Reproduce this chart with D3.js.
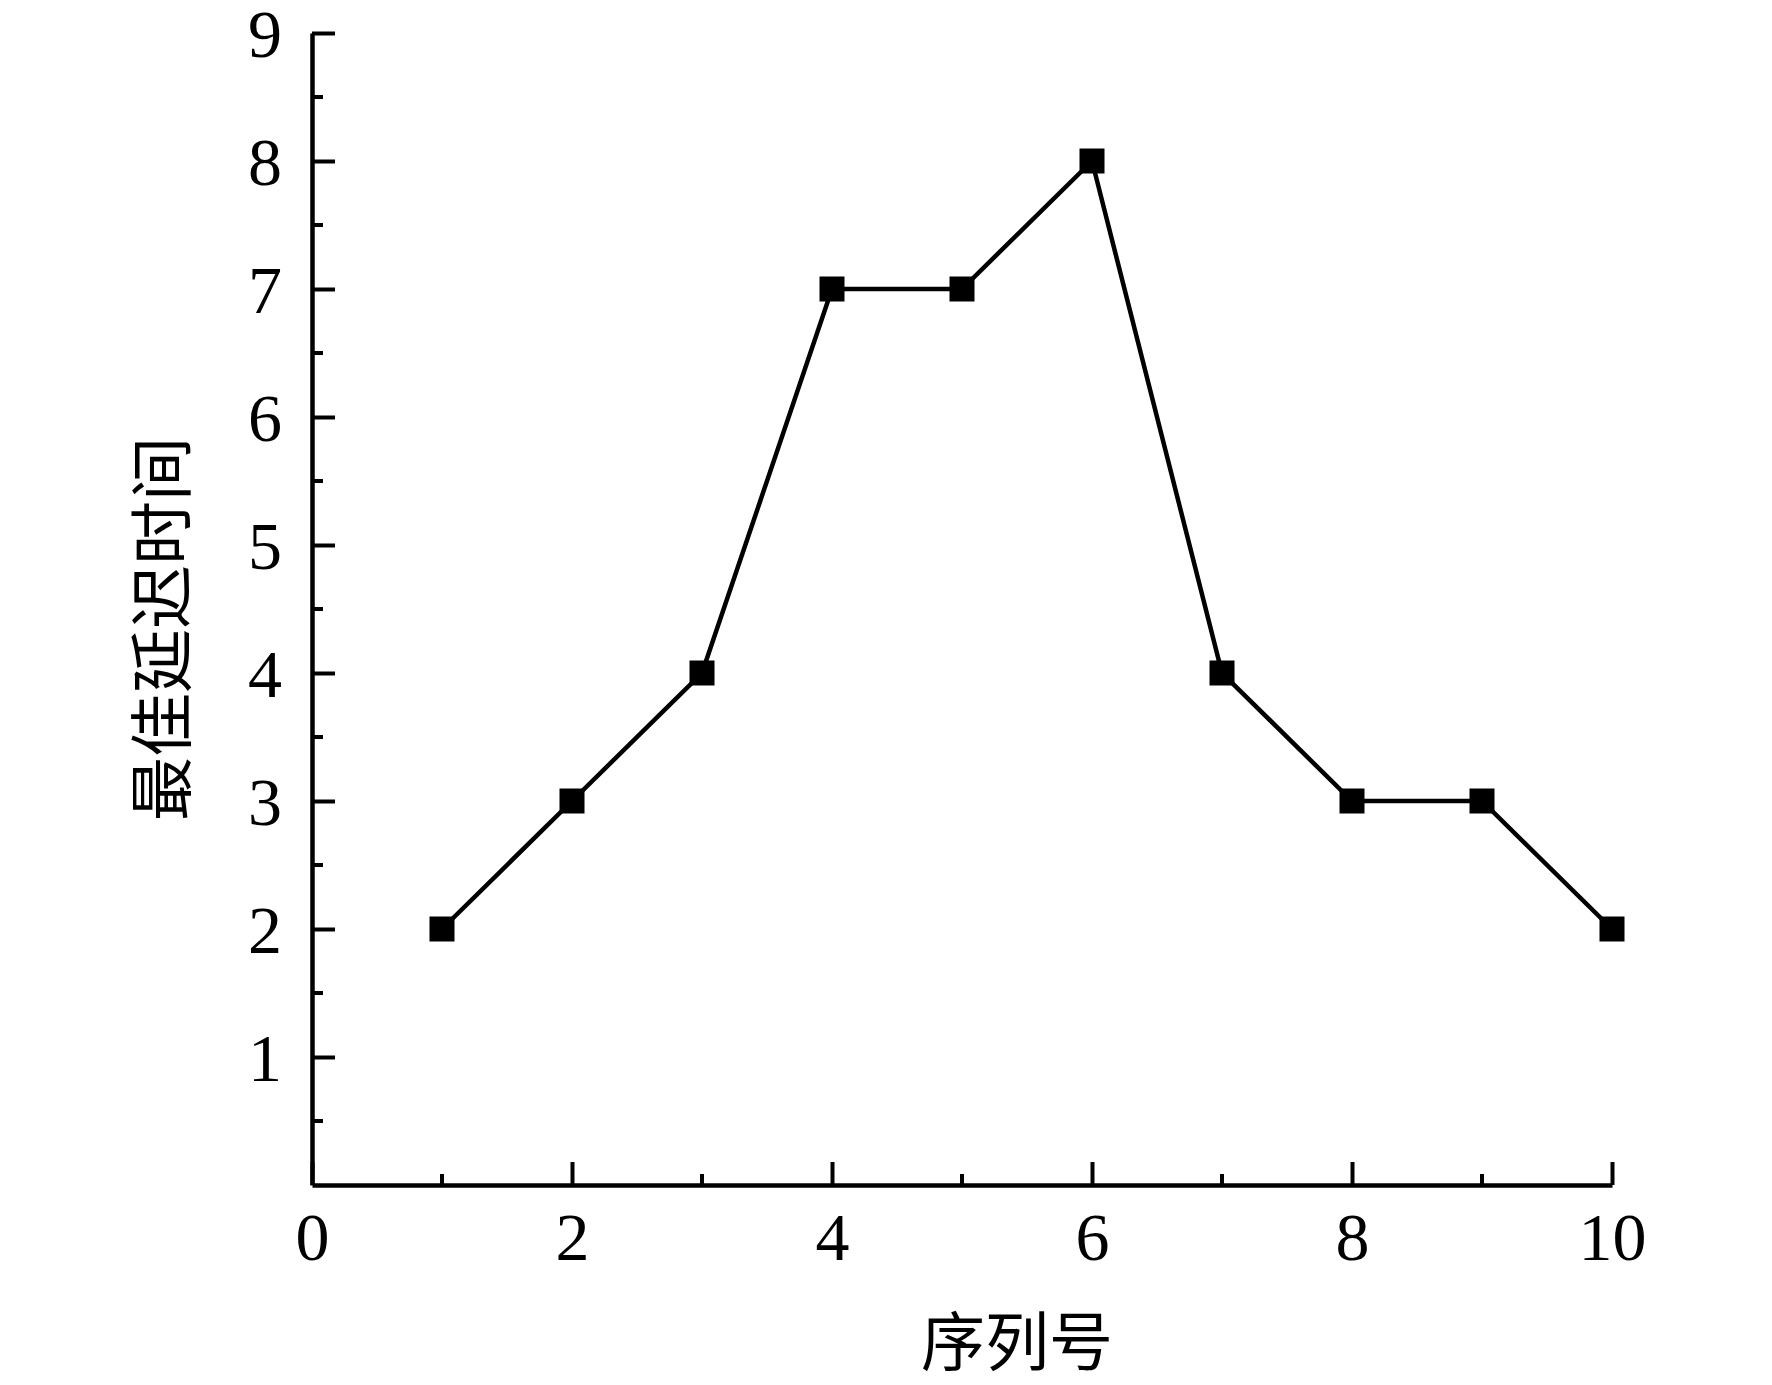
<!DOCTYPE html>
<html>
<head>
<meta charset="utf-8">
<script src="https://cdn.jsdelivr.net/npm/d3@7"></script>
<style>
  body { margin: 0; background: #fff; }
  text { font-family: "Liberation Serif", "Times New Roman", "Noto Sans CJK SC", serif; fill: #000; }
</style>
</head>
<body>
<div id="chart"></div>
<script>
// chart data
const seqNo = [1, 2, 3, 4, 5, 6, 7, 8, 9, 10];
const bestDelay = [2, 3, 4, 7, 7, 8, 4, 3, 3, 2];
const xTicks = [0, 2, 4, 6, 8, 10];
const yTicks = [1, 2, 3, 4, 5, 6, 7, 8, 9];
const xLabel = "序列号";
const yLabel = "最佳延迟时间";

const width = 1772;
const height = 1385;
const fontFamily = '"Liberation Serif", "Times New Roman", "Noto Sans CJK SC", serif';
const svg = d3.select("#chart").append("svg")
    .attr("width", width)
    .attr("height", height);

const x = d3.scaleLinear().domain([0, 10]).range([312, 1612]);
const y = d3.scaleLinear().domain([0, 9]).range([1185, 33]);

const axisColor = "#000";

// minor ticks (halfway between majors)
const xMinor = d3.range(1, 10, 2);
const yMinor = d3.range(0.5, 9, 1);

// x axis, ticks pointing up into the plot
const xAxis = svg.append("g")
    .attr("transform", `translate(0,${y(0)})`)
    .call(d3.axisBottom(x).tickValues(xTicks).tickSizeInner(-23).tickSizeOuter(0).tickPadding(0).tickFormat(d3.format("d")))
    .attr("font-family", fontFamily);
xAxis.select(".domain").attr("stroke-width", 4.5);
xAxis.selectAll(".tick line").attr("stroke-width", 4);
xAxis.selectAll(".tick text")
    .attr("y", 52)
    .attr("dy", "0.34em")
    .style("font-size", "68px");
xAxis.selectAll(".minor")
    .data(xMinor)
    .enter().append("line")
    .attr("x1", d => x(d)).attr("x2", d => x(d))
    .attr("y1", 0).attr("y2", -11)
    .attr("stroke", axisColor).attr("stroke-width", 4);

// y axis, ticks pointing right into the plot
const yAxis = svg.append("g")
    .attr("transform", `translate(${x(0)},0)`)
    .call(d3.axisLeft(y).tickValues(yTicks).tickSizeInner(-23).tickSizeOuter(0).tickPadding(0).tickFormat(d3.format("d")))
    .attr("font-family", fontFamily);
yAxis.select(".domain").attr("stroke-width", 4.5);
yAxis.selectAll(".tick line").attr("stroke-width", 4);
yAxis.selectAll(".tick text")
    .attr("x", -30)
    .attr("dy", "0.34em")
    .style("font-size", "68px");
yAxis.selectAll(".minor")
    .data(yMinor)
    .enter().append("line")
    .attr("x1", 0).attr("x2", 11)
    .attr("y1", d => y(d)).attr("y2", d => y(d))
    .attr("stroke", axisColor).attr("stroke-width", 4);

// axis titles
svg.append("text")
    .attr("x", 1017)
    .attr("y", 1342)
    .attr("dy", "0.36em")
    .attr("text-anchor", "middle")
    .style("font-size", "64px")
    .text(xLabel);

svg.append("text")
    .attr("transform", "translate(162,629) rotate(-90)")
    .attr("dy", "0.36em")
    .attr("text-anchor", "middle")
    .style("font-size", "64px")
    .text(yLabel);

// the series
const points = seqNo.map((d, i) => ({ x: d, y: bestDelay[i] }));

svg.append("path")
    .datum(points)
    .attr("fill", "none")
    .attr("stroke", "#000")
    .attr("stroke-width", 4.5)
    .attr("d", d3.line().x(d => x(d.x)).y(d => y(d.y)));

const size = 25;
svg.selectAll(".marker")
    .data(points)
    .enter().append("rect")
    .attr("class", "marker")
    .attr("x", d => x(d.x) - size / 2)
    .attr("y", d => y(d.y) - size / 2)
    .attr("width", size)
    .attr("height", size)
    .attr("fill", "#000");
</script>
</body>
</html>
